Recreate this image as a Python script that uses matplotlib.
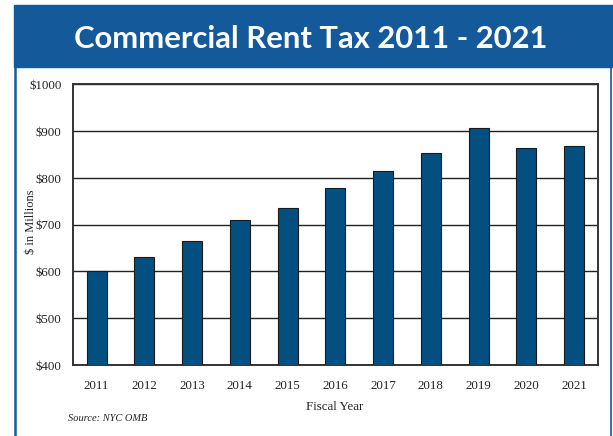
import matplotlib.pyplot as plt
from matplotlib.patches import Rectangle
from matplotlib.lines import Line2D

# data
years = ["2011", "2012", "2013", "2014", "2015", "2016", "2017", "2018", "2019", "2020", "2021"]
rent_tax = [602, 631, 666, 711, 736, 779, 816, 854, 907, 864, 869]
y_ticks = [400, 500, 600, 700, 800, 900, 1000]
y_labels = ["$400", "$500", "$600", "$700", "$800", "$900", "$1000"]

HEADER_BLUE = "#14599a"
BAR_BLUE = "#034f80"

W, H = 613, 436
fig = plt.figure(figsize=(W / 100, H / 100), dpi=100)

# ---- header band + panel border ----
fig.patches.append(Rectangle((14 / W, 1 - 67.5 / H), 1 - 14 / W, 62.5 / H,
                             transform=fig.transFigure, color=HEADER_BLUE, zorder=0))
fig.lines.append(Line2D([15 / W, 15 / W], [0, 1 - 67 / H], transform=fig.transFigure,
                        color=HEADER_BLUE, lw=1.8))
fig.lines.append(Line2D([611 / W, 611 / W], [0, 1 - 67 / H], transform=fig.transFigure,
                        color=HEADER_BLUE, lw=1.2))
fig.text(311 / W, 1 - 38.5 / H, "Commercial Rent Tax 2011 - 2021", color="white",
         fontsize=22.3, fontweight="bold", family="Lato", ha="center", va="center")

# ---- chart ----
ax = fig.add_axes([72.7 / W, 1 - 365 / H, (598 - 72.7) / W, (365 - 84.5) / H])
x = range(len(years))
ax.bar(x, rent_tax, width=0.42, color=BAR_BLUE, edgecolor="#1a1a1a", linewidth=0.8, zorder=3)
ax.set_xlim(-0.5, len(years) - 0.5)
ax.set_ylim(400, 1000)
ax.set_yticks(y_ticks)
ax.set_yticklabels(y_labels)
ax.set_xticks(list(x))
ax.set_xticklabels(years)
ax.yaxis.grid(True, color="#222222", lw=1.0, zorder=1)
ax.tick_params(length=0, labelsize=9.3, colors="#222222")
ax.tick_params(axis="x", pad=11)
ax.tick_params(axis="y", pad=8)
for lab in ax.get_xticklabels() + ax.get_yticklabels():
    lab.set_family("Liberation Serif")
for s in ax.spines.values():
    s.set_color("#333333")
    s.set_linewidth(1.4)

fig.text(31 / W, 1 - 222 / H, "$ in Millions", rotation=90, ha="center", va="center",
         fontsize=9, family="Liberation Serif", color="#222222")
fig.text(335 / W, 1 - 407 / H, "Fiscal Year", ha="center", va="center",
         fontsize=9.3, family="Liberation Serif", color="#222222")
fig.text(68 / W, 1 - 418 / H, "Source: NYC OMB", ha="left", va="center",
         fontsize=7.5, family="Liberation Serif", style="italic", color="#222222")

fig.savefig("out.png", dpi=100)
